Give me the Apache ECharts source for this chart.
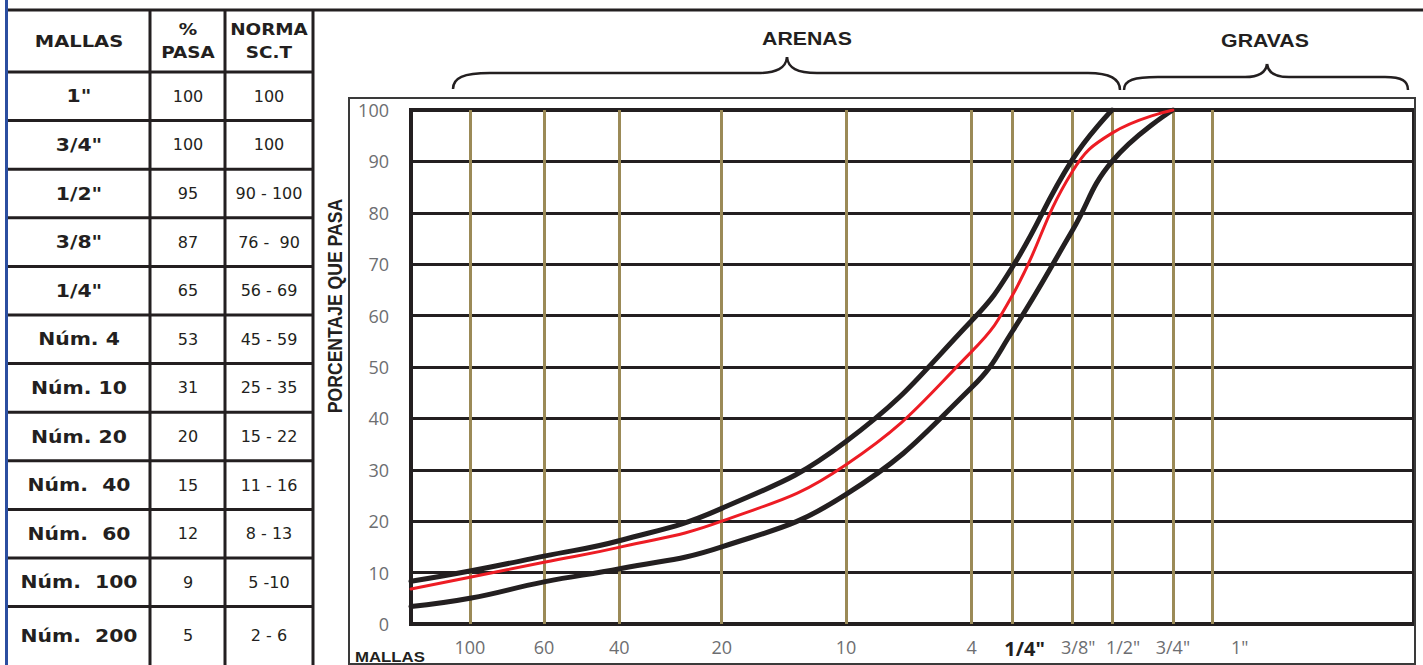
<!DOCTYPE html>
<html>
<head>
<meta charset="utf-8">
<script src="https://cdn.jsdelivr.net/npm/echarts@6/dist/echarts.min.js"></script>
<style>
html,body{margin:0;padding:0;background:#ffffff;}
#c{width:1423px;height:665px;}
</style>
</head>
<body>
<div id="c"></div>
<script>
// ---------------- DATA ----------------
const tableHeaders = [['MALLAS'], ['%', 'PASA'], ['NORMA', 'SC.T']];
const meshNames = ['1"', '3/4"', '1/2"', '3/8"', '1/4"', 'Núm. 4', 'Núm. 10', 'Núm. 20', 'Núm.  40', 'Núm.  60', 'Núm.  100', 'Núm.  200'];
const percentPassing = [100, 100, 95, 87, 65, 53, 31, 20, 15, 12, 9, 5];
const normRange = ['100', '100', '90 - 100', '76 -  90', '56 - 69', '45 - 59', '25 - 35', '15 - 22', '11 - 16', '8 - 13', '5 -10', '2 - 6'];

// sieve openings (mm) of the vertical lines and their labels
const sieveOpeningsMm = [0.15, 0.25, 0.425, 0.85, 2, 4.75, 6.3, 9.5, 12.5, 19, 25];
const sieveLabels = ['100', '60', '40', '20', '10', '4', '1/4"', '3/8"', '1/2"', '3/4"', '1"'];

// curves (x = opening in mm, y = % passing)
const curveSizesMm = [0.1, 0.15, 0.25, 0.425, 0.85, 2, 4.75, 6.3, 9.5, 12.5, 19];
const upperLimit  = [8.3, 10.3, 13.2, 16.3, 22.5, 35.5, 59, 69.5, 90.3, 100, null];
const actualCurve = [6.8, 9.1, 12, 15, 20, 31, 53, 64, 88, 95.5, 100];
const lowerLimit  = [3.4, 5, 8.2, 10.8, 15, 25.2, 46, 57, 76.5, 90, 100];

const groupLabels = ['ARENAS', 'GRAVAS'];
const yAxisTitle = 'PORCENTAJE QUE PASA';
const xAxisTitle = 'MALLAS';

// ---------------- STYLE / LAYOUT ----------------
const INK = '#231f20';
const OLIVE = '#9b8a57';
const GREY = '#6d6e71';
const RED = '#ed1c24';
const labelShift = {'1/4"': 12, '3/8"': 6, '1/2"': 11, '1"': 27};

const chart = echarts.init(document.getElementById('c'), null, {renderer: 'svg'});

function txt(x, y, text, o) {
  o = o || {};
  return {
    type: 'text', x: x, y: y, z: 20,
    scaleX: o.scaleX || 1,
    rotation: o.rotation || 0,
    style: {
      text: text,
      fill: o.color || INK,
      fontSize: o.size || 16,
      fontWeight: o.weight || 'normal',
      fontFamily: o.family || 'DejaVu Sans',
      align: o.align || 'center', verticalAlign: 'middle',
      textAlign: o.align || 'center', textVerticalAlign: 'middle'
    }
  };
}
function ln(x1, y1, x2, y2, color, w, z) {
  return {type: 'line', z: z || 10, shape: {x1: x1, y1: y1, x2: x2, y2: y2}, style: {stroke: color, lineWidth: w}};
}
function bz(x1, y1, c1x, c1y, c2x, c2y, x2, y2) {
  return {type: 'bezierCurve', z: 10, shape: {x1: x1, y1: y1, cpx1: c1x, cpy1: c1y, cpx2: c2x, cpy2: c2y, x2: x2, y2: y2}, style: {fill: null, stroke: INK, lineWidth: 2.5}};
}

const g = [];
// page frame
g.push(ln(6.5, 0, 6.5, 665, '#2b4ea0', 3, 12));
g.push(ln(6, 10, 1423, 10, INK, 3, 11));
// table
const colCenters = [79, 188, 269];
[150, 225, 313].forEach(x => g.push(ln(x, 10, x, 665, INK, 3)));
const rowTop0 = 72, rowH = 48.6;
meshNames.forEach((m, i) => {
  const top = rowTop0 + i * rowH;
  const bottom = i === meshNames.length - 1 ? 665 : top + rowH;
  const cy = (top + bottom) / 2;
  g.push(ln(7, top, 313, top, INK, 3));
  g.push(txt(colCenters[0], cy, m, {weight: 'bold', size: 18.5, scaleX: 1.1}));
  g.push(txt(colCenters[1], cy, String(percentPassing[i]), {size: 16}));
  g.push(txt(colCenters[2], cy, normRange[i], {size: 16}));
});
tableHeaders.forEach((lines, c) => {
  if (lines.length === 1) {
    g.push(txt(colCenters[c], 41, lines[0], {weight: 'bold', size: 16, scaleX: 1.22}));
  } else {
    g.push(txt(colCenters[c], 29, lines[0], {weight: 'bold', size: 16, scaleX: 1.15}));
    g.push(txt(colCenters[c], 52, lines[1], {weight: 'bold', size: 16, scaleX: 1.15}));
  }
});
// chart outer box
g.push({type: 'rect', z: 1, shape: {x: 349, y: 98, width: 1066, height: 566}, style: {fill: null, stroke: '#3a3a3a', lineWidth: 2}});
// braces (ARENAS)
g.push(bz(453, 89, 453, 78, 463, 73, 490, 73));
g.push(ln(490, 73, 757, 73, INK, 2.5));
g.push(bz(757, 73, 777, 73, 786, 68, 787, 57));
g.push(bz(787, 57, 788, 68, 797, 73, 817, 73));
g.push(ln(817, 73, 1088, 73, INK, 2.5));
g.push(bz(1088, 73, 1110, 73, 1120, 79, 1120, 90));
// braces (GRAVAS)
g.push(bz(1124, 90, 1124, 80, 1134, 77, 1158, 77));
g.push(ln(1158, 77, 1245, 77, INK, 2.5));
g.push(bz(1245, 77, 1259, 77, 1266, 72, 1267, 64));
g.push(bz(1267, 64, 1268, 72, 1275, 77, 1289, 77));
g.push(ln(1289, 77, 1385, 77, INK, 2.5));
g.push(bz(1385, 77, 1402, 77, 1408, 81, 1408, 90));
g.push(txt(807, 38, groupLabels[0], {weight: 'bold', size: 19, family: 'Liberation Sans', scaleX: 1.12}));
g.push(txt(1265, 40, groupLabels[1], {weight: 'bold', size: 19, family: 'Liberation Sans', scaleX: 1.12}));
// axis titles
g.push(txt(335, 306, yAxisTitle, {weight: 'bold', size: 20, family: 'Liberation Sans', scaleX: 0.88, rotation: Math.PI / 2}));
g.push(txt(355, 657, xAxisTitle, {weight: 'bold', size: 14, family: 'Liberation Sans', scaleX: 1.2, align: 'left'}));

const pairs = (ys) => curveSizesMm.map((x, i) => [x, ys[i]]).filter(p => p[1] != null);

const rich = {
  n: {color: GREY, fontSize: 18, fontFamily: 'Open Sans'},
  b: {color: INK, fontSize: 20, fontWeight: 'bold', fontFamily: 'Open Sans'}
};
Object.keys(labelShift).forEach(k => {
  rich['s' + labelShift[k]] = {color: GREY, fontSize: 18, fontFamily: 'Open Sans', padding: [0, 0, 0, 2 * labelShift[k]]};
  rich['bs' + labelShift[k]] = {color: INK, fontSize: 20, fontWeight: 'bold', fontFamily: 'Open Sans', padding: [0, 0, 0, 2 * labelShift[k]]};
});

const curveStyle = (color, width) => ({type: 'line', symbol: 'none', smooth: 0.45, lineStyle: {color: color, width: width, cap: 'round', join: 'round'}});

const option = {
  animation: false,
  backgroundColor: '#ffffff',
  grid: {left: 411, top: 110, width: 1003, height: 514, show: true, borderColor: INK, borderWidth: 4, backgroundColor: 'transparent'},
  xAxis: {
    type: 'log', logBase: 10, min: 0.1, max: 100,
    axisLine: {show: false}, axisTick: {show: false}, axisLabel: {show: false}, splitLine: {show: false}
  },
  yAxis: {
    type: 'value', min: 0, max: 100, interval: 10,
    axisLine: {show: false}, axisTick: {show: false},
    axisLabel: {color: GREY, fontSize: 18, fontFamily: 'Open Sans', margin: 22},
    splitLine: {lineStyle: {color: INK, width: 3}}
  },
  graphic: {elements: g},
  series: [
    {
      name: 'Mallas', type: 'line', data: [], clip: false, silent: true,
      markLine: {
        silent: true, symbol: ['none', 'none'], animation: false,
        lineStyle: {color: OLIVE, width: 3, type: 'solid'},
        label: {
          show: true, position: 'start', distance: 14,
          formatter: (p) => {
            const bold = p.name === '1/4"';
            const s = labelShift[p.name];
            const key = (bold ? (s ? 'bs' + s : 'b') : (s ? 's' + s : 'n'));
            return '{' + key + '|' + p.name + '}';
          },
          rich: rich
        },
        data: sieveOpeningsMm.map((v, i) => ({xAxis: v, name: sieveLabels[i]}))
      }
    },
    Object.assign({name: 'Límite inferior', data: pairs(lowerLimit), z: 5}, curveStyle(INK, 5)),
    Object.assign({name: 'Límite superior', data: pairs(upperLimit), z: 5}, curveStyle(INK, 5)),
    Object.assign({name: '% Pasa', data: pairs(actualCurve), z: 6}, curveStyle(RED, 3))
  ]
};
chart.setOption(option);
</script>
</body>
</html>
